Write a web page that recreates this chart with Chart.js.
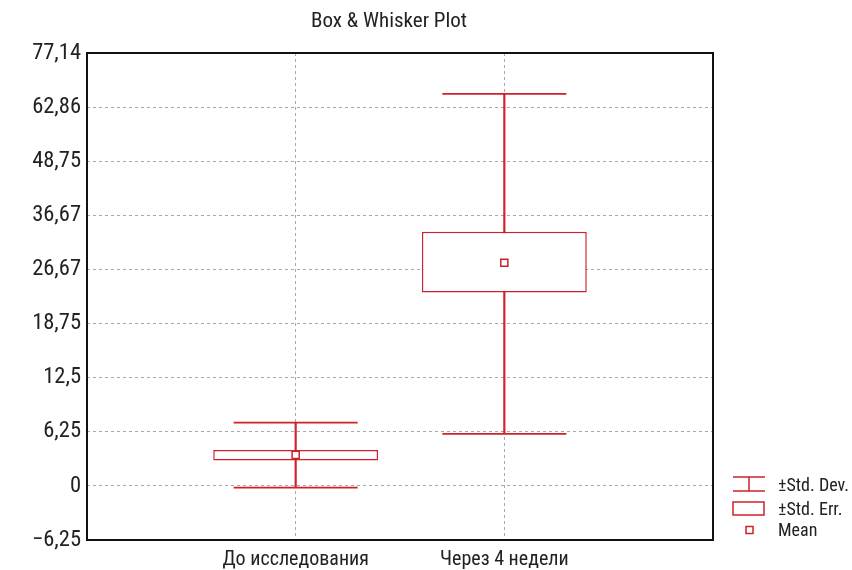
<!DOCTYPE html>
<html>
<head>
<meta charset="utf-8">
<title>Box & Whisker Plot</title>
<script src="https://cdn.jsdelivr.net/npm/chart.js@4/dist/chart.umd.min.js"></script>
<style>
    body { margin: 0; background: #fff; }
    #wrap { width: 852px; height: 570px; position: relative; }
</style>
</head>
<body>
<div id="wrap"><canvas id="box-plot"></canvas></div>
<script>
const title = 'Box & Whisker Plot'
const categories = ['До исследования', 'Через 4 недели']
const means = [3.58, 27.91]
const stdErrLow = [2.92, 23.30]
const stdErrHigh = [4.15, 33.64]
const stdDevLow = [-0.20, 6.00]
const stdDevHigh = [7.31, 66.36]

// ticks are evenly spaced on screen but their values are not
const yTickValues = [-6.25, 0, 6.25, 12.5, 18.75, 26.67, 36.67, 48.75, 62.86, 77.14]
const yTickLabels = ['−6,25', '0', '6,25', '12,5', '18,75', '26,67', '36,67', '48,75', '62,86', '77,14']

const legendLabels = ['±Std. Dev.', '±Std. Err.', 'Mean']

const red = '#d0202a'
const textColor = '#222'
const fontFamily = '"Roboto Condensed", Roboto, sans-serif'

// value -> position on the (index based) y axis
function toAxis(v) {
    let last = yTickValues.length - 2
    for (let i = 0; i <= last; i++) {
        let a = yTickValues[i], b = yTickValues[i + 1]
        if (v <= b || i == last) return i + (v - a) / (b - a)
    }
}

// empty slots at both ends so the two groups sit at 1/3 and 2/3 of the width
function padded(arr) {
    return [null, ...arr, null]
}

const xLabels = ['', ...categories, '']

const decor = {
    id: 'decor',
    afterDraw(chart) {
        let ctx = chart.ctx
        let a = chart.chartArea
        ctx.save()

        ctx.strokeStyle = '#111'
        ctx.lineWidth = 2
        ctx.strokeRect(a.left, a.top, a.right - a.left, a.bottom - a.top)

        ctx.fillStyle = textColor
        ctx.font = `21px ${fontFamily}`
        ctx.textAlign = 'center'
        ctx.textBaseline = 'middle'
        ctx.fillText(title, 389, 22)

        // legend, bottom right
        let left = a.right + 20
        let textX = left + 45
        let textY = [a.bottom - 54, a.bottom - 30, a.bottom - 8.5]
        let iconY = [a.bottom - 56, a.bottom - 31.5, a.bottom - 10]
        ctx.strokeStyle = red
        ctx.lineWidth = 1.5

        ctx.beginPath()
        ctx.moveTo(left, iconY[0] - 7); ctx.lineTo(left + 32, iconY[0] - 7)
        ctx.moveTo(left, iconY[0] + 7); ctx.lineTo(left + 32, iconY[0] + 7)
        ctx.moveTo(left + 16, iconY[0] - 7); ctx.lineTo(left + 16, iconY[0] + 7)
        ctx.stroke()

        ctx.strokeRect(left, iconY[1] - 6.5, 31, 13)
        ctx.strokeRect(left + 13, iconY[2] - 3.5, 7, 7)

        ctx.fillStyle = textColor
        ctx.font = `18px ${fontFamily}`
        ctx.textAlign = 'left'
        legendLabels.map((label, i) => {
            ctx.fillText(label, textX, textY[i])
        })

        ctx.restore()
    }
}

const gridStyle = { color: '#a8a8a8', lineWidth: 1, drawTicks: false, offset: false }

new Chart(document.getElementById('box-plot').getContext('2d'), {
    type: 'bar',
    data: {
        labels: xLabels,
        datasets: [
            {
                type: 'line',
                label: 'Mean',
                data: categories.map((c, i) => ({ x: c, y: toAxis(means[i]) })),
                showLine: false,
                pointStyle: 'rect',
                pointRadius: 5,
                pointBorderWidth: 1.5,
                pointBackgroundColor: '#fff',
                pointBorderColor: red,
                order: 0
            },
            {
                label: '±Std. Err.',
                data: padded(categories.map((c, i) => [toAxis(stdErrLow[i]), toAxis(stdErrHigh[i])])),
                backgroundColor: '#fff',
                borderColor: red,
                borderWidth: 1.5,
                borderSkipped: false,
                barPercentage: 0.79,
                categoryPercentage: 1,
                grouped: false,
                order: 1
            },
            {
                type: 'line',
                label: 'caps',
                data: categories.flatMap((c, i) => [
                    { x: c, y: toAxis(stdDevLow[i]) },
                    { x: c, y: toAxis(stdDevHigh[i]) }
                ]),
                showLine: false,
                pointStyle: 'line',
                pointRadius: 62,
                pointBorderWidth: 1.8,
                pointBorderColor: red,
                order: 2
            },
            {
                label: '±Std. Dev.',
                data: padded(categories.map((c, i) => [toAxis(stdDevLow[i]), toAxis(stdDevHigh[i])])),
                backgroundColor: red,
                borderWidth: 0,
                barThickness: 1.5,
                grouped: false,
                order: 3
            }
        ]
    },
    options: {
        responsive: true,
        maintainAspectRatio: false,
        animation: false,
        events: [],
        layout: { autoPadding: false, padding: { top: 53, right: 139, bottom: 0, left: 0 } },
        plugins: {
            legend: { display: false },
            tooltip: { enabled: false },
            title: { display: false }
        },
        scales: {
            x: {
                type: 'category',
                offset: false,
                grid: gridStyle,
                border: { display: false, dash: [3, 3] },
                ticks: {
                    color: textColor,
                    font: { family: fontFamily, size: 20 },
                    padding: 8,
                    autoSkip: false,
                    maxRotation: 0
                },
                afterFit: (s) => { s.height = 30 }
            },
            y: {
                type: 'linear',
                min: 0,
                max: yTickValues.length - 1,
                grid: gridStyle,
                border: { display: false, dash: [3, 3] },
                ticks: {
                    stepSize: 1,
                    autoSkip: false,
                    color: textColor,
                    font: { family: fontFamily, size: 22.5 },
                    padding: 6,
                    callback: (v) => yTickLabels[v]
                },
                afterFit: (s) => { s.width = 87 }
            }
        }
    },
    plugins: [decor]
})
</script>
</body>
</html>
